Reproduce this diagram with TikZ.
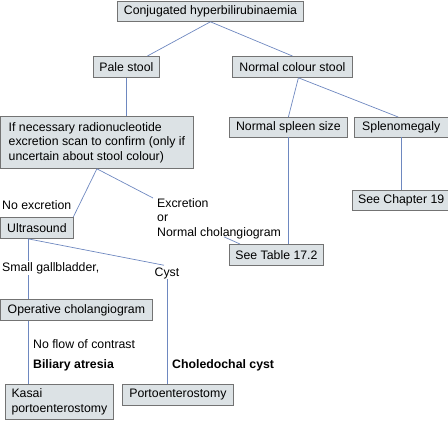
\documentclass[tikz,border=0pt]{standalone}
\usepackage{fontspec}
\setmainfont{Liberation Sans}
\usepackage{tikz}
\usetikzlibrary{positioning}
\definecolor{boxfill}{RGB}{220,226,229}
\definecolor{boxline}{RGB}{115,115,115}
\definecolor{linkblue}{RGB}{110,136,192}
\tikzset{
  flow-box/.style={draw=boxline, fill=boxfill, line width=0.8pt, inner xsep=6pt, inner ysep=0pt,
    font=\fontsize{12.3}{14.5}\selectfont, anchor=north west},
  flow-text/.style={inner sep=0pt, align=left, font=\fontsize{12.3}{14.5}\selectfont},
  flow-link/.style={draw=linkblue, line width=0.7pt}
}

\begin{document}
\begin{tikzpicture}[x=1pt, y=-1pt, node distance=6pt]
  \useasboundingbox (0,0) rectangle (448,421);
  % boxes
  \node[flow-box, minimum width=186pt, minimum height=20pt] (conj) at (117,1) {Conjugated hyperbilirubinaemia};
  \node[flow-box, minimum width=65pt, minimum height=21pt] (pale) at (93,56) {Pale stool};
  \node[flow-box, minimum width=120pt, minimum height=21pt] (normal) at (232,56) {Normal colour stool};
  \node[flow-box, minimum width=192pt, minimum height=52pt, align=left] (radio) at (0.5,116) {If necessary radionucleotide\\excretion scan to confirm (only if\\uncertain about stool colour)};
  \node[flow-box, minimum width=118pt, minimum height=19.5pt] (spleen) at (229,117) {Normal spleen size};
  \node[flow-box, minimum width=94pt, minimum height=19.5pt, right=6pt of spleen] (splen) {Splenomegaly};
  \node[flow-box, minimum width=94pt, minimum height=20pt, below=53pt of splen] (chap) {See Chapter 19};
  \node[flow-box, minimum width=90pt, minimum height=21pt] (table) at (229,244) {See Table 17.2};
  \node[flow-box, minimum width=72pt, minimum height=21pt] (ultra) at (0.5,217) {Ultrasound};
  \node[flow-box, minimum width=151pt, minimum height=21pt] (opchol) at (0.5,299) {Operative cholangiogram};
  \node[flow-box, minimum width=108pt, minimum height=35pt, align=left] (kasai) at (5,384) {Kasai\\portoenterostomy};
  \node[flow-box, minimum width=111pt, minimum height=21pt] (porto) at (122,384) {Portoenterostomy};
  % free texts
  \node[flow-text, anchor=west] (noexcr) at (2,205) {No excretion};
  \node[flow-text, anchor=north west] (excr) at (157,198) {Excretion\\or\\Normal cholangiogram};
  \node[flow-text] (cyst) at (167,273) {Cyst};
  \node[flow-text, anchor=west] (noflow) at (33,344) {No flow of contrast};
  \node[flow-text, anchor=west, font=\fontsize{12.3}{14.5}\selectfont\bfseries] (atresia) at (33,365) {Biliary atresia};
  \node[flow-text, anchor=west, font=\fontsize{12.3}{14.5}\selectfont\bfseries] (choled) at (172,365) {Choledochal cyst};
  % connectors
  \draw[flow-link] (conj.south) -- ([xshift=21pt]pale.north);
  \draw[flow-link] (conj.south) -- (normal.north);
  \draw[flow-link] (pale.south) -- (pale.south |- radio.north);
  \draw[flow-link] ([xshift=6pt]normal.south) -- (spleen.north);
  \draw[flow-link] ([xshift=6pt]normal.south) -- ([xshift=-3pt]splen.north);
  \draw[flow-link] (splen.south) -- (chap.north);
  \draw[flow-link] (spleen.south) -- (spleen.south |- table.north);
  \draw[flow-link] (radio.south) -- (ultra.north east);
  \draw[flow-link] (radio.south) -- ([xshift=-4pt]excr.north west);
  \coordinate (chol-foot) at ([xshift=67pt,yshift=2pt]excr.south west);
  \draw[flow-link] (chol-foot) -- ([xshift=11pt]table.north west);
  \coordinate (ultra-foot) at ([xshift=-9pt]ultra.south);
  \draw[flow-link] (ultra-foot) -- ([xshift=-3pt,yshift=2pt]cyst.north);
  \draw[flow-link] (ultra-foot) -- (ultra-foot |- opchol.north);
  \draw[flow-link] (cyst.south) -- (cyst.south |- porto.north);
  \draw[flow-link] (opchol.south -| ultra-foot) -- (kasai.north -| ultra-foot);
  \node[flow-text, anchor=west, fill=white, inner ysep=1pt] (gall) at (2,268) {Small gallbladder,};
\end{tikzpicture}
\end{document}
